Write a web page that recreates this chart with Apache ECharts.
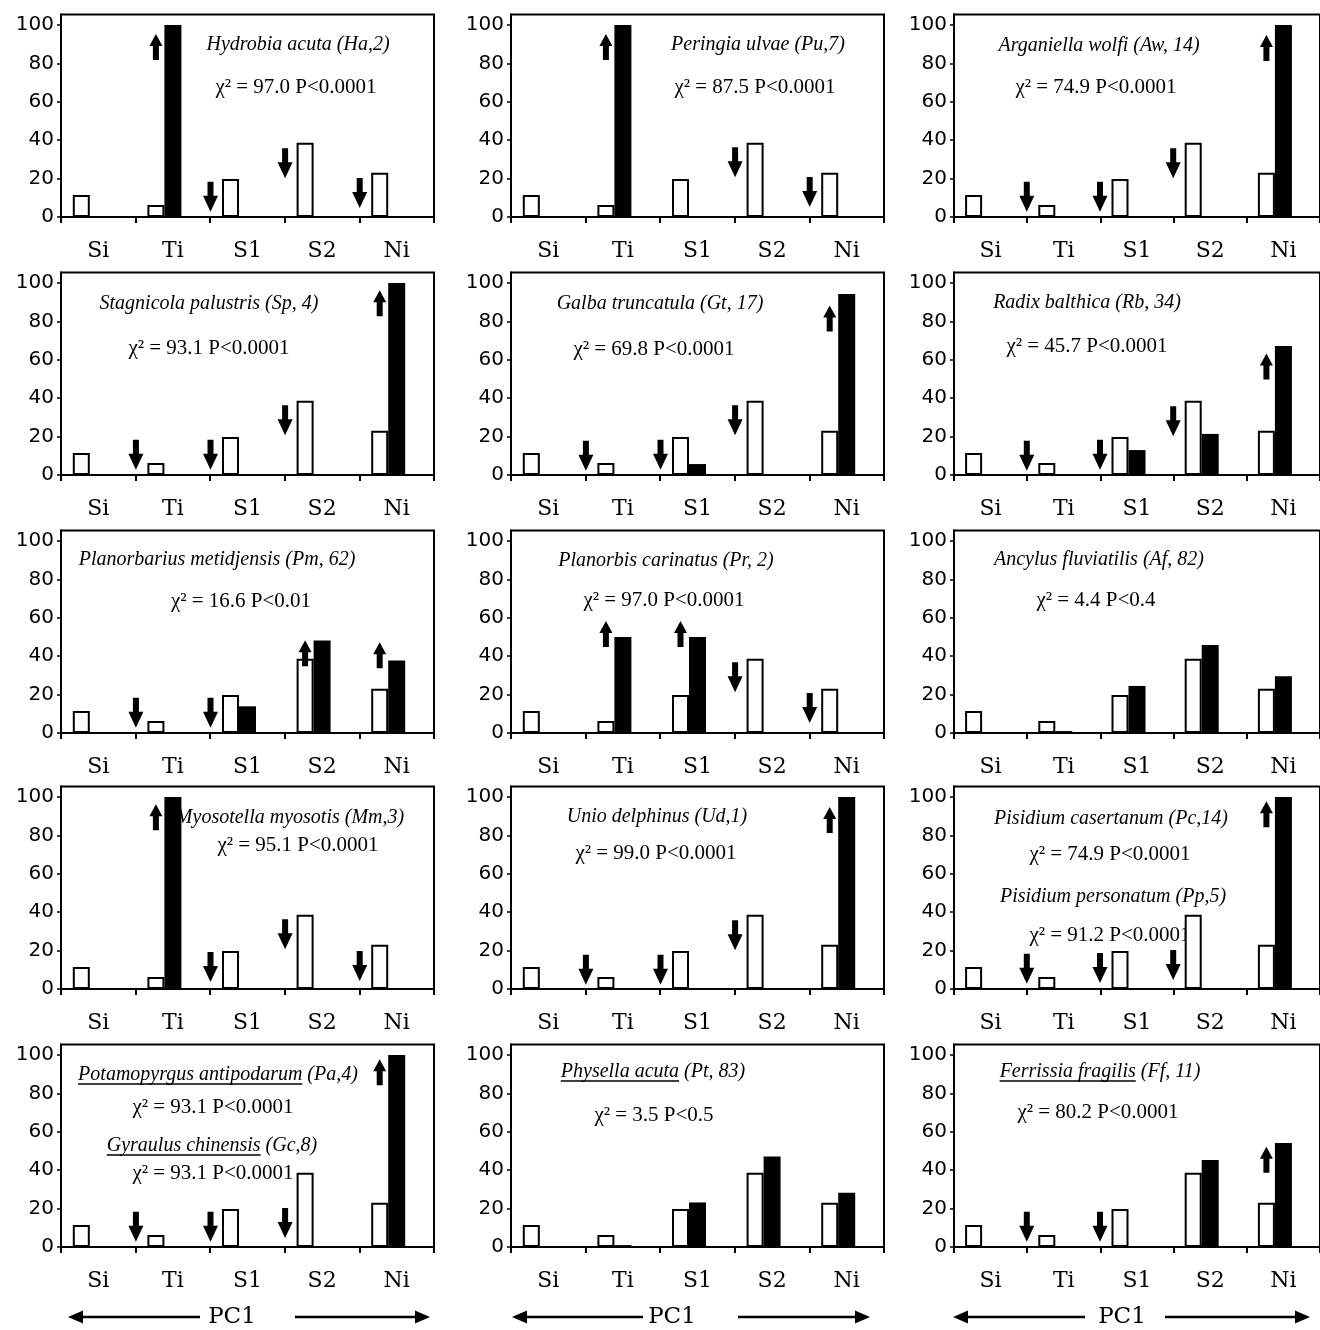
<!DOCTYPE html>
<html>
<head>
<meta charset="utf-8">
<script src="https://cdn.jsdelivr.net/npm/echarts@6/dist/echarts.min.js"></script>
<style>
html,body{margin:0;padding:0;background:#fff;}
#chart{width:1320px;height:1330px;}
</style>
</head>
<body>
<div id="chart"></div>
<script>
// ---------------- DATA ----------------
const categories = ['Si', 'Ti', 'S1', 'S2', 'Ni'];
const yTickValues = [0, 20, 40, 60, 80, 100];

// white bars: reference distribution (same in every panel)
const referenceValues = [11.5, 6.2, 19.8, 38.7, 23.1];

// black bars: per-species distribution (panels left-to-right, top-to-bottom)
const hydrobiaValues     = [0, 100, 0, 0, 0];
const peringiaValues     = [0, 100, 0, 0, 0];
const arganiellaValues   = [0, 0, 0, 0, 100];
const stagnicolaValues   = [0, 0, 0, 0, 100];
const galbaValues        = [0, 0, 5.7, 0, 94.3];
const radixValues        = [0, 0, 13, 21.4, 67.2];
const planorbariusValues = [0, 0, 13.9, 48.2, 37.8];
const planorbisValues    = [0, 50, 50, 0, 0];
const ancylusValues      = [0, 1, 24.5, 45.8, 29.5];
const myosotellaValues   = [0, 100, 0, 0, 0];
const unioValues         = [0, 0, 0, 0, 100];
const pisidiumValues     = [0, 0, 0, 0, 100];
const potamopyrgusValues = [0, 0, 0, 0, 100];
const physellaValues     = [0, 1, 23.2, 47.2, 28.3];
const ferrissiaValues    = [0, 0, 0, 45.3, 54.2];

const speciesValues = [
  hydrobiaValues, peringiaValues, arganiellaValues,
  stagnicolaValues, galbaValues, radixValues,
  planorbariusValues, planorbisValues, ancylusValues,
  myosotellaValues, unioValues, pisidiumValues,
  potamopyrgusValues, physellaValues, ferrissiaValues
];

// panel labels
const speciesNames = [
  ['Hydrobia acuta'], ['Peringia ulvae'], ['Arganiella wolfi'],
  ['Stagnicola palustris'], ['Galba truncatula'], ['Radix balthica'],
  ['Planorbarius metidjensis'], ['Planorbis carinatus'], ['Ancylus fluviatilis'],
  ['Myosotella myosotis'], ['Unio delphinus'], ['Pisidium casertanum', 'Pisidium personatum'],
  ['Potamopyrgus antipodarum', 'Gyraulus chinensis'], ['Physella acuta'], ['Ferrissia fragilis']
];
const speciesCodes = [
  ['(Ha,2)'], ['(Pu,7)'], ['(Aw, 14)'],
  ['(Sp, 4)'], ['(Gt, 17)'], ['(Rb, 34)'],
  ['(Pm, 62)'], ['(Pr, 2)'], ['(Af, 82)'],
  ['(Mm,3)'], ['(Ud,1)'], ['(Pc,14)', '(Pp,5)'],
  ['(Pa,4)', '(Gc,8)'], ['(Pt, 83)'], ['(Ff, 11)']
];
const chiSquareValues = [
  ['97.0'], ['87.5'], ['74.9'],
  ['93.1'], ['69.8'], ['45.7'],
  ['16.6'], ['97.0'], ['4.4'],
  ['95.1'], ['99.0'], ['74.9', '91.2'],
  ['93.1', '93.1'], ['3.5'], ['80.2']
];
const pValueLabels = [
  ['P<0.0001'], ['P<0.0001'], ['P<0.0001'],
  ['P<0.0001'], ['P<0.0001'], ['P<0.0001'],
  ['P<0.01'], ['P<0.0001'], ['P<0.4'],
  ['P<0.0001'], ['P<0.0001'], ['P<0.0001', 'P<0.0001'],
  ['P<0.0001', 'P<0.0001'], ['P<0.5'], ['P<0.0001']
];
const underlinedPanels = [12, 13, 14];

// significance arrows: [category, direction, value at arrow centre]
const significanceArrows = [
  [['Ti','up',88.5], ['S1','down',10.5], ['S2','down',28], ['Ni','down',12.5]],
  [['Ti','up',88.5], ['S2','down',28.5], ['Ni','down',13]],
  [['Ti','down',10.5], ['S1','down',10.5], ['S2','down',28], ['Ni','up',88]],
  [['Ti','down',10.5], ['S1','down',10.5], ['S2','down',28.5], ['Ni','up',89.5]],
  [['Ti','down',10], ['S1','down',10.5], ['S2','down',28.5], ['Ni','up',81.5]],
  [['Ti','down',10], ['S1','down',10.5], ['S2','down',28], ['Ni','up',56.5]],
  [['Ti','down',10.5], ['S1','down',10.5], ['S2','up',41.5], ['Ni','up',40.5]],
  [['Ti','up',51.5], ['S1','up',51.5], ['S2','down',29], ['Ni','down',13]],
  [],
  [['Ti','up',89.5], ['S1','down',11.5], ['S2','down',28.5], ['Ni','down',12]],
  [['Ti','down',10], ['S1','down',10], ['S2','down',28], ['Ni','up',88]],
  [['Ti','down',10.5], ['S1','down',11], ['S2','down',12.5], ['Ni','up',91]],
  [['Ti','down',10.5], ['S1','down',10.5], ['S2','down',12.5], ['Ni','up',91]],
  [],
  [['Ti','down',10.5], ['S1','down',10.5], ['Ni','up',45.5]]
];
const axisTitle = 'PC1';

// ---------------- LAYOUT ----------------
const gridLefts = [61, 511, 954];
const axisBaselines = [217, 475, 733, 989, 1247];
const plotWidth = 373;
const yMax = 105.5;
const pxPerUnit = 1.92;
const plotHeight = yMax * pxPerUnit;

// text centres [x, y] per panel: title1, stat1, (title2, stat2)
const textLayout = [
  [[298,45],[296,87]], [[758,45],[755,87]], [[1099,46],[1096,87]],
  [[209,304],[209,348]], [[660,304],[654,349]], [[1087,303],[1087,346]],
  [[217,560],[241,601]], [[666,561],[664,600]], [[1099,560],[1096,600]],
  [[290,818],[298,845]], [[657,817],[656,853]], [[1111,819],[1110,854],[1113,897],[1110,935]],
  [[218,1075],[213,1107],[212,1146],[213,1173]], [[653,1072],[654,1115]], [[1100,1072],[1098,1112]]
];
const pcLayout = [
  {l:[68,200], t:232, r:[295,430]},
  {l:[512,643], t:672, r:[738,870]},
  {l:[953,1085], t:1122, r:[1165,1310]}
];
const pcY = 1317;

const TITLE_FONT = {fontStyle:'italic', fontSize:20, fontFamily:'"Liberation Serif", "DejaVu Serif", serif'};
const STAT_FONT = {fontStyle:'normal', fontSize:21, fontFamily:'"Liberation Serif", "DejaVu Serif", serif'};

const UP_ARROW = 'path://M6.5,0 L13,12 L9.5,12 L9.5,26 L3.5,26 L3.5,12 L0,12 Z';
const DOWN_ARROW = 'path://M4.5,0 L10.5,0 L10.5,14 L15,14 L7.5,30 L0,14 L4.5,14 Z';

// ---------------- BUILD ----------------
const grids = [], xAxes = [], yAxes = [], series = [], graphics = [];
const measureCtx = document.createElement('canvas').getContext('2d');
function textWidth(str, f) {
  measureCtx.font = f.fontStyle + ' ' + f.fontSize + 'px ' + f.fontFamily;
  return measureCtx.measureText(str).width;
}
function addText(str, x, y, f) {
  graphics.push({
    type:'text', x:x, y:y, z:0,
    style:{text:str, fill:'#000', fontSize:f.fontSize, fontFamily:f.fontFamily, fontStyle:f.fontStyle,
      align:'center', verticalAlign:'middle', textAlign:'center', textVerticalAlign:'middle'}
  });
}

speciesValues.forEach((vals, i) => {
  const row = Math.floor(i / 3), col = i % 3;
  const top = axisBaselines[row] - plotHeight;
  grids.push({left: gridLefts[col], top: top, width: plotWidth, height: plotHeight,
    show: true, borderColor: '#000', borderWidth: 2, backgroundColor: 'rgba(0,0,0,0)'});
  xAxes.push({
    type:'category', gridIndex:i, data:categories,
    axisLine:{show:true, lineStyle:{color:'#000', width:2}},
    axisTick:{show:true, length:6, inside:false, lineStyle:{color:'#000', width:2}},
    axisLabel:{color:'#000', fontFamily:'"DejaVu Serif", serif', fontSize:22, margin:23},
    splitLine:{show:false}
  });
  yAxes.push({
    type:'value', gridIndex:i, min:0, max:yMax, interval:20,
    axisLine:{show:true, lineStyle:{color:'#000', width:2}},
    axisTick:{show:true, length:4, lineStyle:{color:'#000', width:1.5}, customValues:yTickValues},
    axisLabel:{color:'#000', fontFamily:'"DejaVu Sans", sans-serif', fontSize:20, margin:7,
      customValues:yTickValues,
      formatter: v => (yTickValues.indexOf(v) >= 0 ? String(v) : '')},
    splitLine:{show:false}
  });
  series.push({
    type:'bar', xAxisIndex:i, yAxisIndex:i, data:referenceValues, barWidth:17, barGap:'0%',
    itemStyle:{color:'#fff', borderColor:'#000', borderWidth:2}, z:3, silent:true
  });
  series.push({
    type:'bar', xAxisIndex:i, yAxisIndex:i, data:vals, barWidth:17, barGap:'0%',
    itemStyle:{color:'#000'}, z:3, silent:true
  });
  // empty spacer slot (keeps the reference/species pair left of centre as in the original)
  series.push({
    type:'bar', xAxisIndex:i, yAxisIndex:i, data:categories.map(() => null), barWidth:17, barGap:'0%',
    itemStyle:{color:'rgba(0,0,0,0)'}, silent:true
  });
  series.push({
    type:'scatter', xAxisIndex:i, yAxisIndex:i, z:5, silent:true,
    itemStyle:{color:'#000', opacity:1},
    data: significanceArrows[i].map(a => ({
      value:[a[0], a[2]],
      symbol: a[1] === 'up' ? UP_ARROW : DOWN_ARROW,
      symbolSize: a[1] === 'up' ? [13, 26] : [15, 30],
      symbolOffset: a[1] === 'up' ? [-17, 0] : [-37, 0],
      itemStyle:{color:'#000', opacity:1}
    }))
  });

  // texts
  const lay = textLayout[i];
  speciesNames[i].forEach((nm, k) => {
    const title = nm + ' ' + speciesCodes[i][k];
    const stat = 'χ² = ' + chiSquareValues[i][k] + ' ' + pValueLabels[i][k];
    const tp = lay[k * 2], sp = lay[k * 2 + 1];
    addText(title, tp[0], tp[1], TITLE_FONT);
    addText(stat, sp[0], sp[1], STAT_FONT);
    if (underlinedPanels.indexOf(i) >= 0) {
      const w = textWidth(title, TITLE_FONT);
      const wn = textWidth(nm, TITLE_FONT);
      const x0 = tp[0] - w / 2;
      graphics.push({type:'line', z:0, shape:{x1:x0, y1:tp[1] + 9, x2:x0 + wn, y2:tp[1] + 9},
        style:{stroke:'#000', lineWidth:1.3}});
    }
  });
});

// PC1 axis annotations
pcLayout.forEach(p => {
  graphics.push({type:'line', shape:{x1:p.l[0] + 12, y1:pcY, x2:p.l[1], y2:pcY}, style:{stroke:'#000', lineWidth:2.5}});
  graphics.push({type:'polygon', shape:{points:[[p.l[0], pcY], [p.l[0] + 15, pcY - 6.5], [p.l[0] + 15, pcY + 6.5]]}, style:{fill:'#000'}});
  graphics.push({type:'line', shape:{x1:p.r[0], y1:pcY, x2:p.r[1] - 12, y2:pcY}, style:{stroke:'#000', lineWidth:2.5}});
  graphics.push({type:'polygon', shape:{points:[[p.r[1], pcY], [p.r[1] - 15, pcY - 6.5], [p.r[1] - 15, pcY + 6.5]]}, style:{fill:'#000'}});
  addText(axisTitle, p.t, pcY, {fontStyle:'normal', fontSize:23, fontFamily:'"DejaVu Serif", serif'});
});

const chart = echarts.init(document.getElementById('chart'), null, {renderer:'canvas'});
chart.setOption({
  animation:false,
  backgroundColor:'#fff',
  grid:grids, xAxis:xAxes, yAxis:yAxes, series:series,
  graphic:{elements:graphics}
});
</script>
</body>
</html>
